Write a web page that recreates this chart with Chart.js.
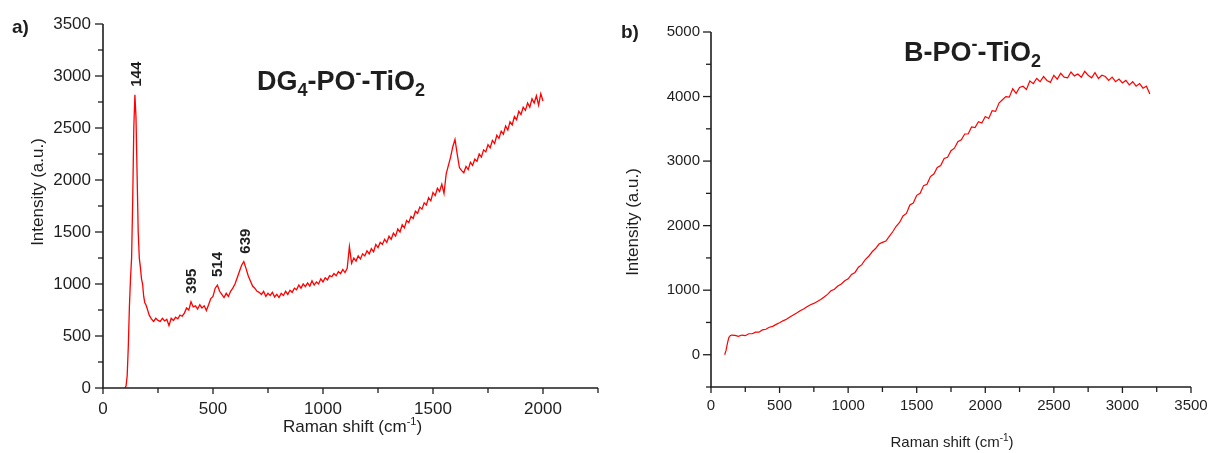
<!DOCTYPE html>
<html>
<head>
<meta charset="utf-8">
<script src="https://cdn.jsdelivr.net/npm/chart.js@4.4.1/dist/chart.umd.min.js"></script>
<style>
  html, body { margin: 0; padding: 0; background: #fff; }
  #wrap { position: relative; width: 1209px; height: 453px; }
  .panel { position: absolute; top: 0; }
  #pa { left: 0; }
  #pb { left: 605px; }
</style>
</head>
<body>
<div id="wrap">
  <div class="panel" id="pa"><canvas id="ca" width="605" height="453"></canvas></div>
  <div class="panel" id="pb"><canvas id="cb" width="604" height="453"></canvas></div>
</div>
<script>
// a) DG4-PO−-TiO2 : desplazamiento Raman (cm-1) e intensidad leída del espectro
const shiftA = [
  100, 105, 110, 115, 120, 125, 130, 135, 140, 145, 150, 155, 160, 165, 170, 175, 180, 185, 190, 195, 200,
  210, 220, 230, 240, 250, 260, 270, 280, 290, 300,
  310, 320, 330, 340, 350, 360, 370, 380, 390, 400,
  410, 420, 430, 440, 450, 460, 470, 480, 490, 500,
  510, 520, 530, 540, 550, 560, 570, 580, 590, 600,
  610, 620, 630, 640, 650, 660, 670, 680, 690, 700,
  710, 720, 730, 740, 750, 760, 770, 780, 790, 800,
  810, 820, 830, 840, 850, 860, 870, 880, 890, 900,
  910, 920, 930, 940, 950, 960, 970, 980, 990, 1000,
  1010, 1020, 1030, 1040, 1050, 1060, 1070, 1080, 1090, 1100,
  1110, 1120, 1130, 1140, 1150, 1160, 1170, 1180, 1190, 1200,
  1210, 1220, 1230, 1240, 1250, 1260, 1270, 1280, 1290, 1300,
  1310, 1320, 1330, 1340, 1350, 1360, 1370, 1380, 1390, 1400,
  1410, 1420, 1430, 1440, 1450, 1460, 1470, 1480, 1490, 1500,
  1510, 1520, 1530, 1540, 1550, 1560, 1570, 1580, 1590, 1600,
  1610, 1620, 1630, 1640, 1650, 1660, 1670, 1680, 1690, 1700,
  1710, 1720, 1730, 1740, 1750, 1760, 1770, 1780, 1790, 1800,
  1810, 1820, 1830, 1840, 1850, 1860, 1870, 1880, 1890, 1900,
  1910, 1920, 1930, 1940, 1950, 1960, 1970, 1980, 1990, 2000
];
const intensityA = [
  0, 20, 120, 400, 780, 1050, 1250, 1800, 2500, 2820, 2600, 2050, 1500, 1250, 1160, 1050, 1000, 880, 820, 800, 770,
  700, 665, 640, 670, 650, 640, 670, 645, 660, 600,
  670, 650, 680, 665, 700, 690, 720, 770, 750, 830,
  780, 790, 760, 800, 770, 790, 745, 800, 860, 880,
  960, 990, 930, 900, 870, 910, 880, 930, 960, 1000,
  1060, 1120, 1180, 1215, 1150, 1080, 1030, 980, 960, 930,
  920, 900, 930, 880, 910, 890, 920, 875, 900, 870,
  910, 890, 930, 900, 940, 920, 960, 945, 990, 960,
  1000, 975, 1010, 980, 1030, 990, 1020, 1000, 1050, 1020,
  1060, 1040, 1080, 1070, 1100, 1080, 1120, 1100, 1140, 1110,
  1150, 1360, 1200, 1250, 1220, 1270, 1240, 1290, 1270, 1320,
  1290, 1340, 1310, 1380, 1350, 1400, 1380, 1430, 1400, 1460,
  1430, 1490, 1460, 1530, 1500, 1570, 1540, 1610, 1590, 1650,
  1630, 1700, 1680, 1740, 1720, 1780, 1760, 1830, 1800, 1880,
  1850, 1920, 1890, 1960, 1870, 2060, 2140, 2220, 2320, 2390,
  2250, 2120, 2090, 2070, 2130, 2100, 2170, 2140, 2200, 2180,
  2250, 2220, 2290, 2270, 2340, 2310, 2380, 2350, 2430, 2400,
  2470, 2440, 2520, 2480, 2560, 2530, 2610, 2580, 2660, 2630,
  2700, 2670, 2740, 2700, 2780, 2740, 2810, 2720, 2830, 2760
];
const peaksA = [144, 395, 514, 639];
const xTicksA = [0, 500, 1000, 1500, 2000];
const yTicksA = [0, 500, 1000, 1500, 2000, 2500, 3000, 3500];

// b) B-PO−-TiO2
const shiftB = [
  100, 110, 120, 130, 140, 150,
  175, 200, 225, 250, 275, 300, 325, 350, 375, 400,
  425, 450, 475, 500, 525, 550, 575, 600, 625, 650,
  675, 700, 725, 750, 775, 800, 825, 850, 875, 900,
  925, 950, 975, 1000, 1025, 1050, 1075, 1100, 1125, 1150,
  1175, 1200, 1225, 1250, 1275, 1300, 1325, 1350, 1375, 1400,
  1425, 1450, 1475, 1500, 1525, 1550, 1575, 1600, 1625, 1650,
  1675, 1700, 1725, 1750, 1775, 1800, 1825, 1850, 1875, 1900,
  1925, 1950, 1975, 2000, 2025, 2050, 2075, 2100, 2125, 2150,
  2175, 2200, 2225, 2250, 2275, 2300, 2325, 2350, 2375, 2400,
  2425, 2450, 2475, 2500, 2525, 2550, 2575, 2600, 2625, 2650,
  2675, 2700, 2725, 2750, 2775, 2800, 2825, 2850, 2875, 2900,
  2925, 2950, 2975, 3000, 3025, 3050, 3075, 3100, 3125, 3150,
  3175, 3200
];
const intensityB = [
  0, 70, 180, 265, 295, 305,
  300, 285, 305, 295, 325, 325, 350, 350, 385, 395,
  425, 440, 470, 495, 525, 550, 585, 615, 645, 680,
  710, 745, 775, 795, 825, 855, 895, 935, 990, 1015,
  1065, 1095, 1145, 1175, 1245, 1275, 1355, 1395, 1475, 1525,
  1595, 1645, 1715, 1740, 1760, 1835, 1905, 1990, 2050, 2150,
  2190, 2320, 2350, 2470, 2500, 2620, 2640, 2760, 2800, 2900,
  2930, 3040, 3060, 3160, 3200, 3300, 3330, 3420, 3420, 3530,
  3520, 3610, 3590, 3690, 3660, 3780, 3770, 3900, 3950, 4000,
  3990, 4120, 4050, 4140, 4160, 4110, 4240, 4200, 4280, 4230,
  4310, 4250, 4220, 4330, 4270, 4360, 4300, 4290, 4380, 4320,
  4350, 4300, 4390, 4330, 4290, 4370, 4280, 4330, 4310, 4250,
  4300, 4230, 4270, 4210, 4250, 4180, 4230, 4160, 4200, 4130,
  4160, 4040
];
const xTicksB = [0, 500, 1000, 1500, 2000, 2500, 3000, 3500];
const yTicksB = [0, 1000, 2000, 3000, 4000, 5000];

const FONT = '"Liberation Sans", Arial, Helvetica, sans-serif';
const INK = '#1e1e1e';

// texto con subíndices / superíndices: partes [texto, 'n' | 'sub' | 'sup']
function richText(ctx, parts, x, y, size, weight, align) {
  const fontOf = k => `${weight} ${k === 'n' ? size : Math.round(size * 0.65)}px ${FONT}`;
  let total = 0;
  parts.forEach(([t, k]) => { ctx.font = fontOf(k); total += ctx.measureText(t).width; });
  let cx = align === 'center' ? x - total / 2 : x;
  ctx.textAlign = 'left';
  ctx.textBaseline = 'alphabetic';
  parts.forEach(([t, k]) => {
    ctx.font = fontOf(k);
    const dy = k === 'sup' ? -size * 0.42 : (k === 'sub' ? size * 0.22 : 0);
    ctx.fillText(t, cx, y + dy);
    cx += ctx.measureText(t).width;
  });
}

function line(ctx, x1, y1, x2, y2) {
  ctx.beginPath();
  ctx.moveTo(x1, y1);
  ctx.lineTo(x2, y2);
  ctx.stroke();
}

const ramanTitle = [['Raman shift (cm', 'n'], ['-1', 'sup'], [')', 'n']];

// ejes abiertos, marcas menores, títulos y etiquetas de picos
function makeDecor(o) {
  return {
    id: 'decor',
    afterDraw(chart) {
      const { ctx, chartArea: area, scales: { x, y } } = chart;
      ctx.save();
      ctx.strokeStyle = INK;
      ctx.fillStyle = INK;
      ctx.lineWidth = 1.6;
      ctx.beginPath();
      ctx.moveTo(area.left, area.top);
      ctx.lineTo(area.left, area.bottom);
      ctx.lineTo(area.right, area.bottom);
      ctx.stroke();

      ctx.lineWidth = 1.3;
      for (let v = o.xMin; v <= o.xMax; v += o.xMinor) {
        const px = x.getPixelForValue(v);
        line(ctx, px, area.bottom, px, area.bottom + (o.xTicks.includes(v) ? 6 : 5));
      }
      for (let v = o.yMin; v <= o.yMax; v += o.yMinor) {
        const py = y.getPixelForValue(v);
        line(ctx, area.left - (o.yTicks.includes(v) ? 8 : 5), py, area.left, py);
      }

      // letra del panel
      ctx.font = `bold ${o.letterSize}px ${FONT}`;
      ctx.textAlign = 'left';
      ctx.textBaseline = 'alphabetic';
      ctx.fillText(o.letter, o.letterX, o.letterY);

      // título de la muestra
      richText(ctx, o.title, o.titleX, o.titleY, o.titleSize, 'bold', 'left');

      // títulos de ejes
      richText(ctx, ramanTitle, (area.left + area.right) / 2 + o.xTitleDx, area.bottom + o.xTitleDy, o.xTitleSize, 'normal', 'center');
      ctx.save();
      ctx.translate(o.yTitleX, o.yTitleY);
      ctx.rotate(-Math.PI / 2);
      ctx.font = `${o.yTitleSize}px ${FONT}`;
      ctx.textAlign = 'center';
      ctx.textBaseline = 'middle';
      ctx.fillText('Intensity (a.u.)', 0, 0);
      ctx.restore();

      // etiquetas de picos, ancladas al máximo local del espectro
      (o.peaks || []).forEach(p => {
        let top = -Infinity;
        o.shift.forEach((s, i) => { if (Math.abs(s - p) <= 12) top = Math.max(top, o.intensity[i]); });
        ctx.save();
        ctx.translate(x.getPixelForValue(p) + 2, y.getPixelForValue(top) - 8);
        ctx.rotate(-Math.PI / 2);
        ctx.font = `bold 15px ${FONT}`;
        ctx.textAlign = 'left';
        ctx.textBaseline = 'middle';
        ctx.fillText(String(p), 0, 0);
        ctx.restore();
      });
      ctx.restore();
    }
  };
}

function spectrumChart(canvasId, o) {
  return new Chart(document.getElementById(canvasId), {
    type: 'scatter',
    data: {
      datasets: [{
        data: o.shift.map((s, i) => ({ x: s, y: o.intensity[i] })),
        showLine: true,
        borderColor: '#ff0000',
        borderWidth: o.lineWidth,
        pointRadius: 0,
        tension: 0
      }]
    },
    options: {
      responsive: false,
      animation: false,
      events: [],
      layout: { padding: o.padding },
      plugins: { legend: { display: false }, tooltip: { enabled: false } },
      scales: {
        x: {
          type: 'linear', min: o.xMin, max: o.xMax,
          grid: { display: false, drawTicks: false },
          border: { display: false },
          ticks: { padding: o.xPad, color: INK, font: { family: FONT, size: o.tickSize }, maxRotation: 0, autoSkip: false, callback: v => String(v) },
          afterBuildTicks: s => { s.ticks = o.xTicks.map(v => ({ value: v })); },
          afterFit: s => { s.height = o.xHeight; s.paddingLeft = 0; s.paddingRight = 0; }
        },
        y: {
          type: 'linear', min: o.yMin, max: o.yMax,
          grid: { display: false, drawTicks: false },
          border: { display: false },
          ticks: { padding: o.yPad, color: INK, font: { family: FONT, size: o.tickSize }, autoSkip: false, callback: v => String(v) },
          afterBuildTicks: s => { s.ticks = o.yTicks.map(v => ({ value: v })); },
          afterFit: s => { s.width = o.yWidth; s.paddingTop = 0; s.paddingBottom = 0; }
        }
      }
    },
    plugins: [makeDecor(o)]
  });
}

spectrumChart('ca', {
  shift: shiftA, intensity: intensityA, peaks: peaksA,
  xTicks: xTicksA, yTicks: yTicksA,
  xMin: 0, xMax: 2250, yMin: 0, yMax: 3500, xMinor: 250, yMinor: 250,
  padding: { left: 0, right: 7, top: 24, bottom: 0 },
  xHeight: 65, yWidth: 103, tickSize: 17, xPad: 11, yPad: 12, lineWidth: 1.3,
  letter: 'a)', letterX: 12, letterY: 33, letterSize: 19,
  title: [['DG', 'n'], ['4', 'sub'], ['-PO', 'n'], ['-', 'sup'], ['-TiO', 'n'], ['2', 'sub']],
  titleX: 257, titleY: 90, titleSize: 27,
  xTitleDx: 2, xTitleDy: 44, xTitleSize: 17,
  yTitleX: 38, yTitleY: 192, yTitleSize: 17
});

spectrumChart('cb', {
  shift: shiftB, intensity: intensityB,
  xTicks: xTicksB, yTicks: yTicksB,
  xMin: 0, xMax: 3500, yMin: -500, yMax: 5000, xMinor: 250, yMinor: 500,
  padding: { left: 0, right: 18, top: 32, bottom: 0 },
  xHeight: 66, yWidth: 106, tickSize: 15, xPad: 10, yPad: 11, lineWidth: 1.2,
  letter: 'b)', letterX: 16, letterY: 38, letterSize: 19,
  title: [['B-PO', 'n'], ['-', 'sup'], ['-TiO', 'n'], ['2', 'sub']],
  titleX: 299, titleY: 61, titleSize: 27,
  xTitleDx: 1, xTitleDy: 60, xTitleSize: 15,
  yTitleX: 28, yTitleY: 222, yTitleSize: 17
});
</script>
</body>
</html>
